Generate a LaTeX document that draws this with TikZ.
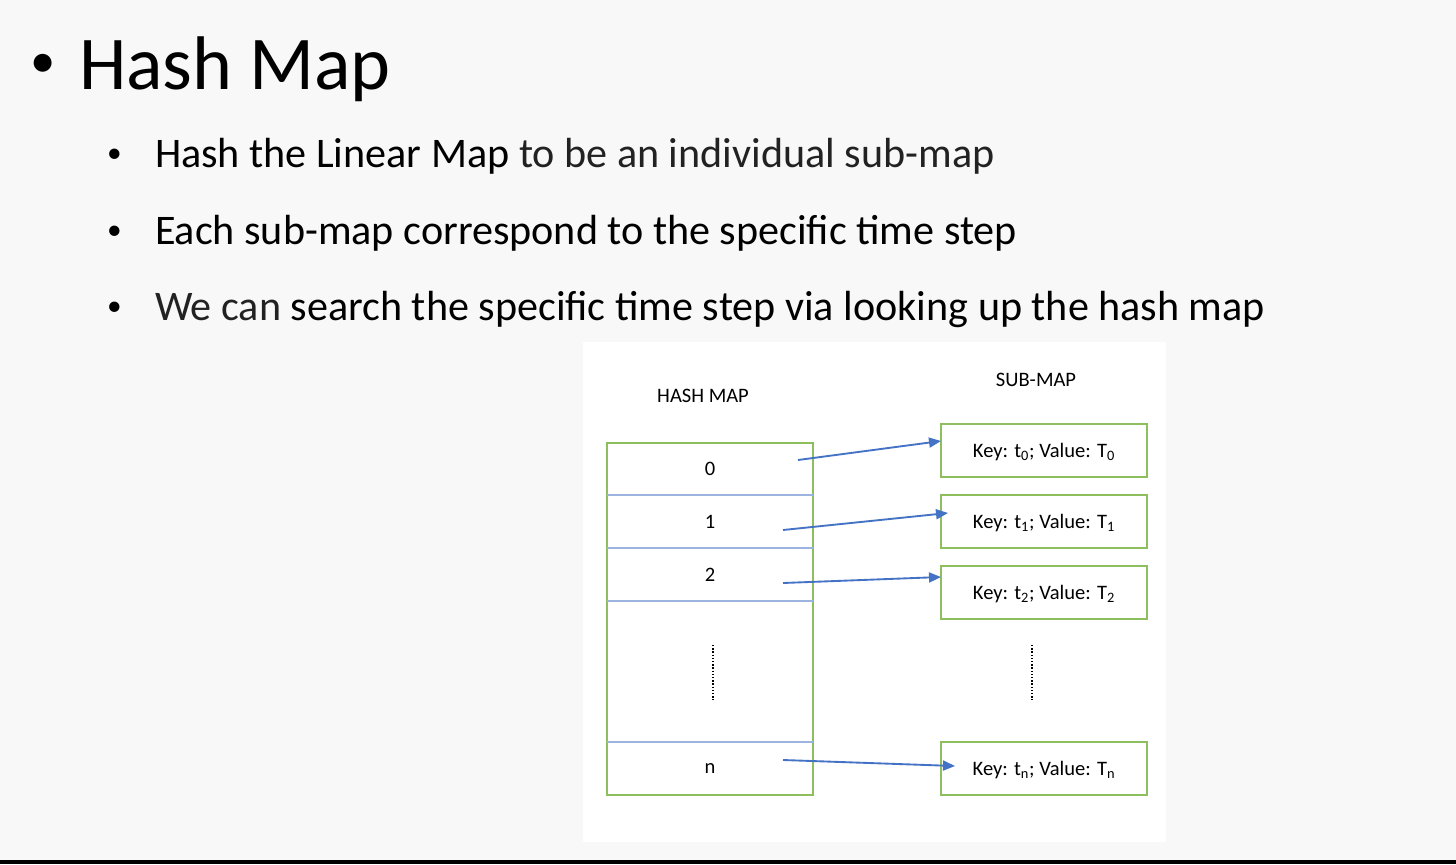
\documentclass[tikz,border=0pt]{standalone}
\usepackage{fontspec}
\setmainfont{Carlito}
\usetikzlibrary{arrows.meta}

\definecolor{slidebg}{HTML}{F8F8F8}
\definecolor{boxgreen}{HTML}{8DBF5E}
\definecolor{arrowblue}{HTML}{4472C4}
\definecolor{rowblue}{HTML}{9BB5E0}
\definecolor{lighttext}{HTML}{222222}

\tikzset{
  every node/.style={inner sep=0pt, outer sep=0pt},
  titletext/.style={anchor=base west, font=\fontsize{57}{60}\selectfont},
  titledot/.style={anchor=base west, font=\fontsize{38}{40}\selectfont},
  bullettext/.style={anchor=base west, font=\fontsize{31.6}{34}\selectfont},
  bulletdot/.style={anchor=base west, font=\fontsize{22}{24}\selectfont},
  diagtext/.style={font=\fontsize{15.4}{17}\selectfont},
  cellbox/.style={draw=none, minimum width=154.5pt, minimum height=39.6pt},
  greenbox/.style={draw=boxgreen, line width=1.5pt},
  subbox/.style={greenbox, minimum width=154.5pt, minimum height=39.75pt, text depth=0pt, diagtext},
  rowline/.style={draw=rowblue, line width=0.8pt},
  link/.style={draw=arrowblue, line width=1.4pt, -{Triangle[length=9pt,width=7.5pt]}},
  ellipsis/.style={line width=1.3pt, dash pattern=on 1pt off 1.4pt},
}

\begin{document}
\begin{tikzpicture}[x=0.75pt, y=-0.75pt]
  % slide background, picture panel and bottom bar
  \fill[slidebg] (0,0) rectangle (1456,864);
  \useasboundingbox (0,0) rectangle (1456,864);
  \fill[white] (583,342) rectangle (1166,842);
  \fill[black] (0,860) rectangle (1456,864);

  % heading
  \node[titledot] (tbul) at (31,77) {•};
  \node[titletext] (title) at (79,89) {Hash Map};

  % bullet list
  \node[bulletdot] (b1dot) at (107,162) {•};
  \node[bullettext] (b1) at (155,167) {Hash the Linear Map \textcolor{lighttext}{to be an individual sub-map}};
  \node[bulletdot] (b2dot) at (107,239) {•};
  \node[bullettext] (b2) at (155,244) {Each sub-map correspond to the specific time step};
  \node[bulletdot] (b3dot) at (107,315) {•};
  \node[bullettext] (b3) at (155,320) {\textcolor{lighttext}{We can} search the specific time step via looking up the hash map};

  % column headings
  \node[diagtext] (hmlabel) at (703,396) {HASH MAP};
  \node[diagtext] (smlabel) at (1036,380) {SUB-MAP};

  % hash map table: cells, row separators and frame
  \node[cellbox, diagtext] (c0) at (710,469) {0};
  \node[cellbox, diagtext] (c1) at (710,521.5) {1};
  \node[cellbox, diagtext] (c2) at (710,574.5) {2};
  \node[cellbox, diagtext] (cn) at (710,768.5) {n};
  \node[greenbox, minimum width=154.5pt, minimum height=264pt] (hm) at (710,619) {};
  \draw[rowline] (607,495) -- (813,495);
  \draw[rowline] (607,548) -- (813,548);
  \draw[rowline] (607,601) -- (813,601);
  \draw[rowline] (607,742) -- (813,742);
  \draw[ellipsis] (713,645) -- (713,700);

  % sub-map entries
  \node[subbox] (k0) at (1044,450.5) {Key: t\textsubscript{0}; Value: T\textsubscript{0}};
  \node[subbox] (k1) at (1044,521.5) {Key: t\textsubscript{1}; Value: T\textsubscript{1}};
  \node[subbox] (k2) at (1044,592.5) {Key: t\textsubscript{2}; Value: T\textsubscript{2}};
  \node[subbox] (kn) at (1044,768.5) {Key: t\textsubscript{n}; Value: T\textsubscript{n}};
  \draw[ellipsis] (1032,645) -- (1032,700);

  % links from hash slots to their sub-maps
  \draw[link] ([shift={(-15,-9)}]c0.east) -- ([shift={(0,-9.5)}]k0.west);
  \draw[link] ([shift={(-30,8.5)}]c1.east) -- ([shift={(7,-8.5)}]k1.west);
  \draw[link] ([shift={(-30,8.5)}]c2.east) -- ([shift={(0,-15.5)}]k2.west);
  \draw[link] ([shift={(-30,-8.5)}]cn.east) -- ([shift={(14,-2.5)}]kn.west);
\end{tikzpicture}
\end{document}
